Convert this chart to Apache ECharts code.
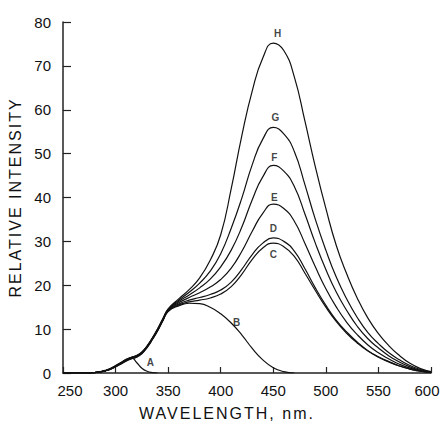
<!DOCTYPE html>
<html>
<head>
<meta charset="utf-8">
<script src="https://cdn.jsdelivr.net/npm/echarts@6/dist/echarts.min.js"></script>
<style>
html,body{margin:0;padding:0;background:#fff;}
#chart{width:442px;height:425px;}
</style>
</head>
<body>
<div id="chart"></div>
<script>
// Wavelength grid (nm)
const wl = [250,260,270,280,290,295,300,305,310,315,320,325,330,335,340,345,350,360,370,380,390,400,410,420,430,440,450,460,470,480,490,500,510,520,530,540,550,560,570,580,590,600];

// Relative intensity per curve
const curveA = [0,0,0,0.1,0.5,0.9,1.5,2.2,2.9,3.5,2.4,1.1,0.4,0.1,0];
const curveB = [0,0,0,0.1,0.5,0.8,1.4,2.0,2.7,3.2,3.6,4.4,5.8,7.6,9.6,11.9,14.0,15.3,15.9,15.8,15.0,13.5,11.4,8.7,5.6,3.0,1.2,0.3,0];
const curveC = [0,0,0,0.1,0.5,0.9,1.5,2.1,2.8,3.3,3.7,4.5,5.9,7.7,9.7,12.0,14.1,15.5,16.2,16.6,17.1,18.0,19.7,22.5,25.9,28.5,29.6,28.8,26.6,22.8,18.8,15.0,11.7,9.0,6.8,5.0,3.6,2.5,1.6,0.9,0.4,0.1];
const curveD = [0,0,0,0.1,0.5,0.9,1.5,2.2,2.9,3.4,3.8,4.6,6.0,7.8,9.8,12.1,14.2,15.7,16.6,17.2,17.9,18.9,20.7,23.6,27.0,29.6,30.8,30.0,27.8,23.8,19.4,15.4,12.0,9.3,7.0,5.1,3.7,2.6,1.6,0.9,0.4,0.1];
const curveE = [0,0,0,0.1,0.5,0.9,1.6,2.2,2.9,3.4,3.8,4.6,6.0,7.8,9.8,12.1,14.3,16.0,17.2,18.3,19.6,21.3,23.9,27.7,32.3,36.4,38.5,37.5,34.6,29.6,24.2,19.2,15.0,11.5,8.7,6.4,4.6,3.2,2.0,1.1,0.5,0.15];
const curveF = [0,0,0,0.1,0.5,0.9,1.6,2.3,3.0,3.5,3.9,4.7,6.1,7.9,9.9,12.2,14.4,16.3,17.8,19.4,21.4,24.2,28.0,33.2,39.5,44.7,47.3,46.0,42.5,36.3,29.6,23.6,18.4,14.2,10.6,7.8,5.7,3.9,2.5,1.4,0.6,0.2];
const curveG = [0,0,0,0.1,0.5,1.0,1.6,2.3,3.0,3.5,3.9,4.7,6.1,7.9,10.0,12.3,14.5,16.6,18.4,20.5,23.2,27.2,33.0,39.8,47.5,53.3,56.0,54.5,50.5,43.0,35.0,28.0,21.8,16.8,12.6,9.2,6.7,4.6,3.0,1.7,0.8,0.2];
const curveH = [0,0,0,0.1,0.6,1.0,1.7,2.4,3.1,3.6,4.0,4.8,6.2,8.0,10.1,12.4,14.6,16.9,19.0,21.7,25.7,31.5,42.0,54.0,64.3,71.8,75.2,73.5,67.5,57.5,47.0,37.5,29.0,22.5,17.0,12.5,9.0,6.2,4.0,2.2,1.0,0.3];

// Curve letter labels (data coordinates)
const labelNames = ['A','B','C','D','E','F','G','H'];
const labelX = [333,415,450,450,451,451,452,454];
const labelY = [2.3,11.6,27.1,32.9,40.1,49.2,58.3,77.3];

// Axis ticks
const xTicks = {min:250, max:600, step:50};
const yTicks = {min:0, max:80, step:10};

const FONT = '"Liberation Sans", Arial, Helvetica, sans-serif';
const INK = '#111';

function pairs(xs, ys){ return ys.map((y,i)=>[xs[i], y]); }

const curves = [curveA, curveB, curveC, curveD, curveE, curveF, curveG, curveH];

const series = curves.map((c, i) => ({
  type:'line',
  name: labelNames[i],
  data: pairs(wl, c),
  smooth: 0.5,
  symbol:'none',
  silent:true,
  lineStyle:{color:INK, width:1.2}
}));

series.push({
  type:'scatter',
  silent:true,
  symbolSize:0,
  data: labelNames.map((n,i)=>[labelX[i], labelY[i], n]),
  label:{show:true, position:'inside', formatter:p=>p.data[2], fontSize:10, fontWeight:'bold', color:INK, fontFamily:FONT},
  itemStyle:{color:'transparent'}
});

const chart = echarts.init(document.getElementById('chart'), null, {renderer:'svg'});
chart.setOption({
  animation:false,
  backgroundColor:'#fff',
  grid:{left:63, right:11, top:22, bottom:52, outerBoundsMode:'none'},
  xAxis:{
    type:'value', min:xTicks.min, max:xTicks.max, interval:xTicks.step,
    axisLine:{show:true, onZero:false, lineStyle:{color:'#222', width:1.5}},
    axisTick:{show:true, inside:true, length:6, lineStyle:{color:'#222', width:1.2}},
    splitLine:{show:false},
    axisLabel:{
      fontSize:15, color:INK, margin:10, fontFamily:FONT,
      formatter: v => v === xTicks.max ? '{r|' + v + '}' : (v === xTicks.min ? '{l|' + v + '}' : String(v)),
      rich:{
        r:{fontSize:15, color:INK, fontFamily:FONT, padding:[0,8,0,0]},
        l:{fontSize:15, color:INK, fontFamily:FONT, padding:[0,0,0,14]}
      }
    },
    name:'WAVELENGTH, nm.', nameLocation:'middle', nameGap:32,
    nameTextStyle:{fontSize:16, color:INK, fontFamily:FONT, padding:[0,40,0,0]}
  },
  yAxis:{
    type:'value', min:yTicks.min, max:yTicks.max, interval:yTicks.step,
    axisLine:{show:true, onZero:false, lineStyle:{color:'#222', width:1.5}},
    axisTick:{show:true, inside:true, length:8, lineStyle:{color:'#222', width:1.2}},
    splitLine:{show:false},
    axisLabel:{fontSize:15, color:INK, margin:12, fontFamily:FONT},
    name:'RELATIVE INTENSITY', nameLocation:'middle', nameGap:37, nameRotate:90,
    nameTextStyle:{fontSize:16, color:INK, fontFamily:FONT}
  },
  series: series
});

function spaceTitles(){
  document.querySelectorAll('#chart svg text').forEach(t=>{
    const s = t.textContent;
    if (s === 'WAVELENGTH, nm.' || s === 'RELATIVE INTENSITY') {
      t.style.letterSpacing = '2px';
    }
  });
}
spaceTitles();
chart.on('finished', spaceTitles);
</script>
</body>
</html>
